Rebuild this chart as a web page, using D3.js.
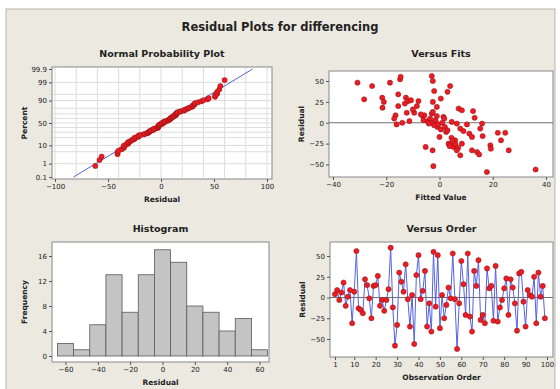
<!DOCTYPE html>
<html>
<head>
<meta charset="utf-8">
<script src="https://cdn.jsdelivr.net/npm/d3@7"></script>
<style>
  body { margin: 0; background: #fff; }
  text { font-family: "DejaVu Sans", sans-serif; fill: #222; }
  .tick text { font-size: 7px; }
  .ptitle { font-size: 9.5px; font-weight: bold; }
  .alabel { font-size: 7.5px; font-weight: bold; }
</style>
</head>
<body>
<div id="chart"></div>
<script>
var residuals = [4, 9, -3, 6, 18, -10, 1, 9, -31, 7, 56, -13, -15, -19, 22, 15, -1, -25, 14, 15,
  26, -10, -3, -16, -3, 10, 60, -12, -58, -33, 30, 19, 7, 40, -2, -35, 3, -56, 27, 51,
  -2, 8, 32, -35, -7, -41, 55, -11, 51, -37, 3, -25, -9, 12, -1, 53, -2, -62, -7, 44,
  16, -21, 53, -23, -41, 32, 14, 45, -27, -21, -31, 35, 11, 14, -28, 38, -29, -12, -3, 11,
  23, -21, 22, 12, -7, -40, 29, 31, -5, -35, 9, 3, 1, 25, -31, 30, 1, 14, -25];

// "Versus Fits" points
var fitValues = [-30.8, -28.3, -25.3, -21.5, -20.9, -21.4, -18.6, -16.5, -16.1, -15.5, -15.5, -14.8, -14.6,
  -12.6, -12.3, -11.7, -11.3, -10.7, -9.5, -7.9, -6.3, -5.7, -5.2, -4.5, -2.9, -2.5, -2.5, -2.9, -2.6,
  -2.3, -2.0, -1.6, -1.0, -0.8, 0, 0.5, 1.5, 2.5, 3.0, 4.0, 3.4, 4.3, 4.6, 5.3, 5.9, 6.5, 7.2, 7.8,
  8.4, 7.8, 8.4, 10.3, 11.2, 12.2, 12.6, 13.2, 12.2, 14.1, 14.9, 15.3, 16.0, 16.2, 17.8, 19.1, 19.3,
  21.9, 23.1, 24.7, 26.0, 36.1, -3.5, -3, -2, -1.5, -1, -0.5, 0.5, 1, -4, 2, 3, -2.5, 4.5, 5, 6, 3.8,
  7, 6.5, 9, 1.8, -6, -7, -10, -13, -8.5, -17, -14];
var fitResiduals = [48, 28, 44, 30, 25, 18, 48, 9, -2, 34, 20, 52, 55,
  30, 12, 26, 2, 27, 12, 26, 8, 9, -29, 2, 56, 50, 25, 11, -33,
  -52, 38, 2, 19, -5, -17, 29, 7, -11, 37, 44, -25, -25, 1, -29, -21, -1, 17, -7,
  15, -39, -25, -2, -13, -17, 14, 6, -33, -35, -38, -7, -1, -16, -59, -27, -31,
  -12, -21, -12, -33, -56, 5, 0, -3, 3, 8, -2, -8, 0, -1, -5, -9, 13, -18, -22, -26, -28,
  -30, -33, -10, 5, 3, 10, 16, 23, 20, 5, 0];

// histogram
var binMids = [-60, -50, -40, -30, -20, -10, 0, 10, 20, 30, 40, 50, 60];
var binCounts = [2, 1, 5, 13, 7, 13, 17, 15, 8, 7, 4, 6, 1];

var probTicks = [0.1, 1, 10, 50, 90, 99, 99.9];
var probGrid = [1, 5, 10, 20, 30, 40, 50, 60, 70, 80, 90, 95, 99];

var W = 560, H = 389;
var svg = d3.select("#chart").append("svg").attr("width", W).attr("height", H);

svg.append("rect").attr("x", 6).attr("y", 9).attr("width", 549).attr("height", 385)
  .attr("fill", "#ece9e1").attr("stroke", "#b8b5ad");

svg.append("text").attr("x", 280).attr("y", 31).attr("text-anchor", "middle")
  .style("font-size", "11.5px").style("font-weight", "bold").text("Residual Plots for differencing");

var red = "#ec1c24", redEdge = "#8c1414";

// inverse normal cdf (Acklam)
function probit(p) {
  var a = [-39.69683028665376, 220.9460984245205, -275.9285104469687, 138.357751867269, -30.66479806614716, 2.506628277459239];
  var b = [-54.47609879822406, 161.5858368580409, -155.6989798598866, 66.80131188771972, -13.28068155288572];
  var c = [-0.007784894002430293, -0.3223964580411365, -2.400758277161838, -2.549732539343734, 4.374664141464968, 2.938163982698783];
  var d = [0.007784695709041462, 0.3224671290700398, 2.445134137142996, 3.754408661907416];
  var q, r;
  if (p < 0.02425) {
    q = Math.sqrt(-2 * Math.log(p));
    return (((((c[0]*q+c[1])*q+c[2])*q+c[3])*q+c[4])*q+c[5]) / ((((d[0]*q+d[1])*q+d[2])*q+d[3])*q+1);
  }
  if (p > 1 - 0.02425) return -probit(1 - p);
  q = p - 0.5; r = q * q;
  return (((((a[0]*r+a[1])*r+a[2])*r+a[3])*r+a[4])*r+a[5])*q / (((((b[0]*r+b[1])*r+b[2])*r+b[3])*r+b[4])*r+1);
}

function panel(o) {
  var g = svg.append("g");
  g.append("rect").attr("x", o.x0).attr("y", o.y0).attr("width", o.x1 - o.x0).attr("height", o.y1 - o.y0)
    .attr("fill", "#fff").attr("stroke", "#9a9a9a").attr("stroke-width", 1.2);
  g.append("text").attr("class", "ptitle").attr("x", (o.x0 + o.x1) / 2).attr("y", o.ty)
    .attr("text-anchor", "middle").text(o.title);
  g.append("text").attr("class", "alabel").attr("x", (o.x0 + o.x1) / 2).attr("y", o.y1 + 23)
    .attr("text-anchor", "middle").text(o.xlabel);
  g.append("text").attr("class", "alabel")
    .attr("transform", "translate(" + (o.x0 - 25) + "," + ((o.y0 + o.y1) / 2) + ") rotate(-90)")
    .attr("text-anchor", "middle").text(o.ylabel);
  return g;
}

function axes(g, o, xAxis, yAxis) {
  var gx = g.append("g").attr("transform", "translate(0," + o.y1 + ")").call(xAxis.tickSize(3).tickPadding(2));
  var gy = g.append("g").attr("transform", "translate(" + o.x0 + ",0)").call(yAxis.tickSize(3).tickPadding(2));
  [gx, gy].forEach(function (a) {
    a.select(".domain").remove();
    a.selectAll("line").attr("stroke", "#555");
  });
}

function dots(g, data, xf, yf) {
  g.selectAll("circle.pt").data(data).enter().append("circle").attr("class", "pt")
    .attr("cx", xf).attr("cy", yf).attr("r", 2.6)
    .attr("fill", red).attr("stroke", redEdge).attr("stroke-width", 0.5);
}

// ---------- Normal probability plot
(function () {
  var o = {x0: 52, x1: 272, y0: 67, y1: 179, ty: 57, title: "Normal Probability Plot", xlabel: "Residual", ylabel: "Percent"};
  var g = panel(o);
  var x = d3.scaleLinear().domain([-100, 100]).range([55, 267]);
  var y = d3.scaleLinear().domain([probit(0.001), probit(0.999)]).range([177, 69]);
  x.ticks(8).forEach(function (v) {
    g.append("line").attr("x1", x(v)).attr("x2", x(v)).attr("y1", o.y0 + 1).attr("y2", o.y1 - 1).attr("stroke", "#dcdcdc");
  });
  probGrid.forEach(function (p) {
    g.append("line").attr("x1", o.x0 + 1).attr("x2", o.x1 - 1).attr("y1", y(probit(p / 100))).attr("y2", y(probit(p / 100))).attr("stroke", "#dcdcdc");
  });
  var sorted = residuals.slice().sort(d3.ascending);
  var n = sorted.length;
  var pts = sorted.map(function (v, i) { return {v: v, z: probit((i + 1 - 0.3) / (n + 0.4))}; });
  var mu = d3.mean(residuals), sd = d3.deviation(residuals);
  var zLo = probit(0.001), zHi = probit(0.999);
  var lx0 = Math.max(mu + sd * zLo, -100), lx1 = Math.min(mu + sd * zHi, 100);
  g.append("clipPath").attr("id", "c1").append("rect")
    .attr("x", o.x0).attr("y", o.y0).attr("width", o.x1 - o.x0).attr("height", o.y1 - o.y0);
  g.append("line").attr("clip-path", "url(#c1)")
    .attr("x1", x(lx0)).attr("y1", y((lx0 - mu) / sd)).attr("x2", x(lx1)).attr("y2", y((lx1 - mu) / sd))
    .attr("stroke", "#5b63d6").attr("stroke-width", 1);
  dots(g, pts, function (d) { return x(d.v); }, function (d) { return y(d.z); });
  axes(g, o,
    d3.axisBottom(x).tickValues([-100, -50, 0, 50, 100]),
    d3.axisLeft(y).tickValues(probTicks.map(function (p) { return probit(p / 100); }))
      .tickFormat(function (z, i) { return probTicks[i]; }));
})();

// ---------- Versus Fits
(function () {
  var o = {x0: 329, x1: 553, y0: 71, y1: 177, ty: 57, title: "Versus Fits", xlabel: "Fitted Value", ylabel: "Residual"};
  var g = panel(o);
  var x = d3.scaleLinear().domain([-40, 40]).range([333, 546]);
  var y = d3.scaleLinear().domain([-50, 50]).range([164.5, 81]);
  g.append("line").attr("x1", o.x0).attr("x2", o.x1).attr("y1", y(0)).attr("y2", y(0)).attr("stroke", "#707070");
  var pts = fitValues.map(function (f, i) { return {f: f, r: fitResiduals[i]}; });
  dots(g, pts, function (d) { return x(d.f); }, function (d) { return y(d.r); });
  axes(g, o, d3.axisBottom(x).tickValues([-40, -20, 0, 20, 40]),
    d3.axisLeft(y).tickValues([-50, -25, 0, 25, 50]));
})();

// ---------- Histogram
(function () {
  var o = {x0: 52, x1: 269, y0: 242, y1: 362, ty: 232, title: "Histogram", xlabel: "Residual", ylabel: "Frequency"};
  var g = panel(o);
  var x = d3.scaleLinear().domain([-60, 60]).range([65.5, 259.5]);
  var y = d3.scaleLinear().domain([0, 16]).range([356, 256]);
  g.selectAll("rect.bar").data(binMids).enter().append("rect").attr("class", "bar")
    .attr("x", function (d) { return x(d - 5); })
    .attr("width", function (d) { return x(d + 5) - x(d - 5); })
    .attr("y", function (d, i) { return y(binCounts[i]); })
    .attr("height", function (d, i) { return y(0) - y(binCounts[i]); })
    .attr("fill", "#c4c4c4").attr("stroke", "#5a5a5a").attr("stroke-width", 0.8);
  axes(g, o, d3.axisBottom(x).tickValues([-60, -40, -20, 0, 20, 40, 60]),
    d3.axisLeft(y).tickValues([0, 4, 8, 12, 16]));
})();

// ---------- Versus Order
(function () {
  var o = {x0: 330, x1: 553, y0: 242, y1: 357, ty: 232, title: "Versus Order", xlabel: "Observation Order", ylabel: "Residual"};
  var g = panel(o);
  var x = d3.scaleLinear().domain([1, 100]).range([335, 547]);
  var y = d3.scaleLinear().domain([-50, 50]).range([339, 256]);
  g.append("line").attr("x1", o.x0).attr("x2", o.x1).attr("y1", y(0)).attr("y2", y(0)).attr("stroke", "#707070");
  var line = d3.line().x(function (d, i) { return x(i + 1); }).y(function (d) { return y(d); });
  g.append("path").datum(residuals).attr("d", line).attr("fill", "none")
    .attr("stroke", "#5561e6").attr("stroke-width", 1);
  dots(g, residuals, function (d, i) { return x(i + 1); }, function (d) { return y(d); });
  axes(g, o, d3.axisBottom(x).tickValues([1, 10, 20, 30, 40, 50, 60, 70, 80, 90, 100]),
    d3.axisLeft(y).tickValues([-50, -25, 0, 25, 50]));
})();
</script>
</body>
</html>
